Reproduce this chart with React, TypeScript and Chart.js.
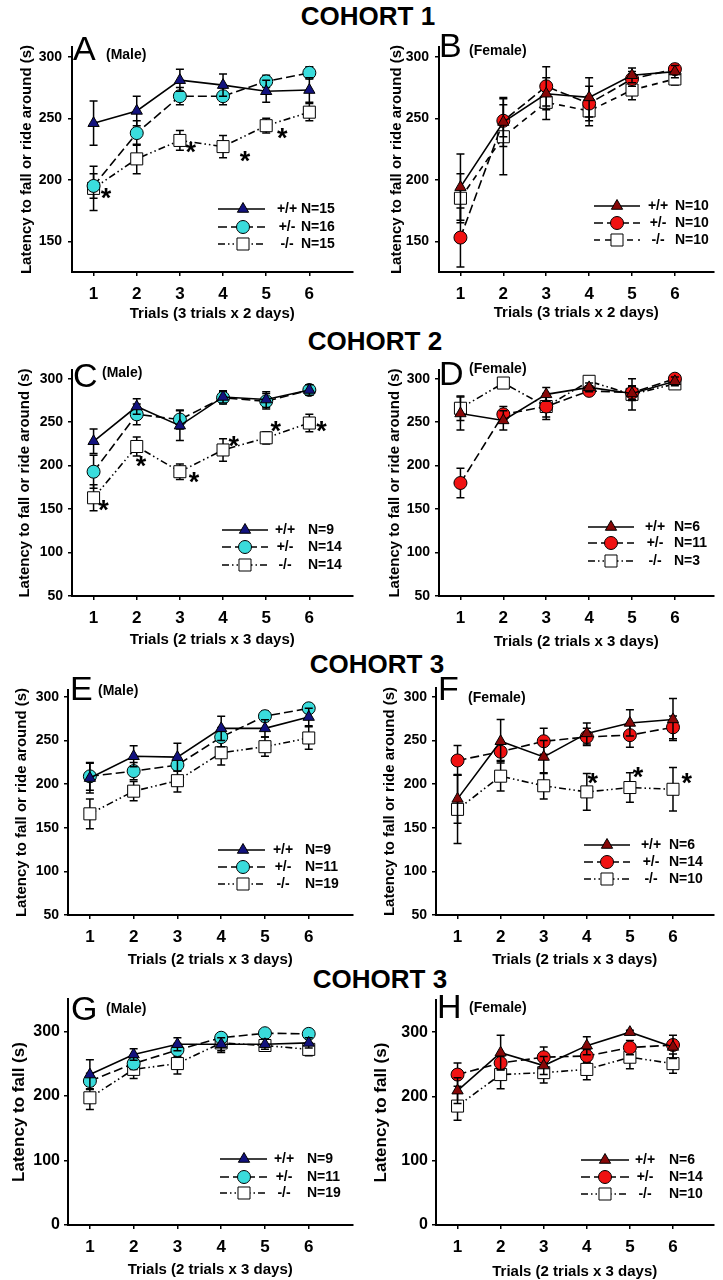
import React, { useEffect, useRef } from 'react';
import { Chart, registerables } from 'chart.js';

Chart.register(...registerables);

const FONT = "'Liberation Sans', Arial, Helvetica, sans-serif";

// ---------- shared categories ----------
const trials = [1, 2, 3, 4, 5, 6];
const genotypes = ['+/+', '+/-', '-/-'];
const yTicksCohort1 = [150, 200, 250, 300];
const yTicks50 = [50, 100, 150, 200, 250, 300];
const yTicks0 = [0, 100, 200, 300];

// ---------- Panel A : Cohort 1, male ----------
const aWT = [246, 256, 281, 277, 272, 273];
const aWTErr = [18, 12, 9, 9, 9, 10];
const aHet = [195, 238, 268, 268, 280, 287];
const aHetErr = [10, 10, 7, 7, 5, 5];
const aKO = [193, 217, 232, 227, 244, 255];
const aKOErr = [18, 12, 8, 9, 6, 7];
const aN = ['N=15', 'N=16', 'N=15'];
const aStarX = [1.29, 3.25, 4.51, 5.37];
const aStarY = [190, 227, 220, 239];

// ---------- Panel B : Cohort 1, female ----------
const bWT = [194, 247, 270, 267, 285, 288];
const bWTErr = [27, 20, 13, 16, 6, 5];
const bHet = [153, 248, 276, 262, 282, 290];
const bHetErr = [24, 13, 16, 14, 6, 4];
const bKO = [185, 235, 263, 256, 273, 282];
const bKOErr = [20, 31, 14, 12, 8, 5];
const bN = ['N=10', 'N=10', 'N=10'];
const bStarX: number[] = [];
const bStarY: number[] = [];

// ---------- Panel C : Cohort 2, male ----------
const cWT = [228, 268, 246, 279, 276, 287];
const cWTErr = [14, 9, 17, 7, 9, 6];
const cHet = [193, 259, 253, 278, 274, 287];
const cHetErr = [19, 12, 11, 7, 9, 6];
const cKO = [163, 222, 193, 218, 232, 249];
const cKOErr = [15, 11, 9, 13, 7, 10];
const cN = ['N=9', 'N=14', 'N=14'];
const cStarX = [1.23, 2.1, 3.33, 4.25, 5.22, 6.28];
const cStarY = [156, 206, 188, 229, 246, 246];

// ---------- Panel D : Cohort 2, female ----------
const dWT = [260, 252, 282, 290, 283, 297];
const dWTErr = [19, 11, 8, 5, 8, 5];
const dHet = [180, 259, 268, 286, 284, 300];
const dHetErr = [17, 9, 15, 5, 8, 3];
const dKO = [266, 295, 268, 297, 282, 294];
const dKOErr = [14, 3, 12, 3, 18, 5];
const dN = ['N=6', 'N=11', 'N=3'];
const dStarX: number[] = [];
const dStarY: number[] = [];

// ---------- Panel E : Cohort 3, male ----------
const eWT = [207, 232, 231, 264, 264, 277];
const eWTErr = [17, 12, 16, 14, 10, 10];
const eHet = [209, 215, 222, 254, 278, 287];
const eHetErr = [16, 10, 7, 11, 6, 5];
const eKO = [166, 192, 204, 236, 243, 253];
const eKOErr = [17, 11, 13, 14, 11, 13];
const eN = ['N=9', 'N=11', 'N=19'];
const eStarX: number[] = [];
const eStarY: number[] = [];

// ---------- Panel F : Cohort 3, female ----------
const fWT = [183, 249, 231, 258, 270, 274];
const fWTErr = [28, 25, 19, 12, 15, 24];
const fHet = [227, 237, 249, 254, 256, 265];
const fHetErr = [17, 10, 15, 10, 14, 13];
const fKO = [171, 209, 198, 191, 196, 194];
const fKOErr = [39, 17, 15, 21, 17, 25];
const fN = ['N=6', 'N=14', 'N=10'];
const fStarX = [4.14, 5.19, 6.32];
const fStarY = [208, 215, 208];

// ---------- Panel G : Cohort 3, male (latency to fall) ----------
const gWT = [233, 264, 280, 280, 280, 282];
const gWTErr = [23, 9, 10, 10, 8, 8];
const gHet = [223, 250, 271, 290, 297, 296];
const gHetErr = [12, 9, 10, 5, 3, 3];
const gKO = [197, 241, 250, 282, 278, 272];
const gKOErr = [18, 14, 16, 15, 7, 10];
const gN = ['N=9', 'N=11', 'N=19'];
const gStarX: number[] = [];
const gStarY: number[] = [];

// ---------- Panel H : Cohort 3, female (latency to fall) ----------
const hWT = [209, 268, 248, 279, 300, 277];
const hWTErr = [20, 27, 14, 14, 3, 18];
const hHet = [234, 252, 261, 263, 276, 280];
const hHetErr = [18, 10, 16, 10, 11, 8];
const hKO = [185, 234, 237, 242, 261, 251];
const hKOErr = [22, 22, 16, 16, 18, 15];
const hN = ['N=6', 'N=14', 'N=10'];
const hStarX: number[] = [];
const hStarY: number[] = [];

// ---------- texts ----------
const yTitleLong = 'Latency to fall or ride around (s)';
const yTitleShort = 'Latency to fall (s)';
const xTitle32 = 'Trials (3 trials x 2 days)';
const xTitle23 = 'Trials (2 trials x 3 days)';

const headings = [
  { text: 'COHORT 1', cx: 368, base: 25 },
  { text: 'COHORT 2', cx: 375, base: 350 },
  { text: 'COHORT 3', cx: 377, base: 673 },
  { text: 'COHORT 3', cx: 380, base: 988 },
];

type Rect = { x: number; y: number; w: number; h: number };
type Area = { l: number; t: number; r: number; b: number };
type LegendPos = { rows: number[]; line: [number, number]; marker: number; geno: number; n: number };
type PanelSpec = {
  letter: string;
  sex: string;
  female: boolean;
  canvas: Rect;
  area: Area;
  xMax: number;
  yMin: number;
  yMax: number;
  yTicks: number[];
  yTitle: string;
  xTitle: string;
  yTitleX: number;
  xTitleY: number;
  yTitleSize: number;
  yTickSize: number;
  yTickPad: number;
  values: number[][];
  errors: number[][];
  ns: string[];
  starX: number[];
  starY: number[];
  legend: LegendPos;
  koDash: number[];
  letterPos: { x: number; base: number };
  sexPos: { x: number; base: number };
};

const DASH_HET = [9, 4];
const DASH_KO = [7, 3, 1.5, 3, 1.5, 3];
const DASH_KO_B = [6, 5];

const panels: PanelSpec[] = [
  {
    letter: 'A', sex: '(Male)', female: false,
    canvas: { x: 0, y: 20, w: 362, h: 310 }, area: { l: 72, t: 47, r: 358, b: 272 },
    xMax: 7, yMin: 125, yMax: 308, yTicks: yTicksCohort1,
    yTitle: yTitleLong, xTitle: xTitle32, yTitleX: 27, xTitleY: 314, yTitleSize: 15, yTickSize: 14, yTickPad: 6,
    values: [aWT, aHet, aKO], errors: [aWTErr, aHetErr, aKOErr], ns: aN, starX: aStarX, starY: aStarY,
    legend: { rows: [209, 227, 244], line: [218, 265], marker: 243, geno: 287, n: 301 },
    koDash: DASH_KO, letterPos: { x: 73, base: 60 }, sexPos: { x: 106, base: 59 },
  },
  {
    letter: 'B', sex: '(Female)', female: true,
    canvas: { x: 362, y: 20, w: 361, h: 310 }, area: { l: 439, t: 47, r: 721, b: 272 },
    xMax: 6.9, yMin: 125, yMax: 308, yTicks: yTicksCohort1,
    yTitle: yTitleLong, xTitle: xTitle32, yTitleX: 397, xTitleY: 313, yTitleSize: 15, yTickSize: 14, yTickPad: 6,
    values: [bWT, bHet, bKO], errors: [bWTErr, bHetErr, bKOErr], ns: bN, starX: bStarX, starY: bStarY,
    legend: { rows: [206, 223, 240], line: [594, 640], marker: 617, geno: 658, n: 675 },
    koDash: DASH_KO_B, letterPos: { x: 439, base: 57 }, sexPos: { x: 469, base: 55 },
  },
  {
    letter: 'C', sex: '(Male)', female: false,
    canvas: { x: 0, y: 345, w: 362, h: 305 }, area: { l: 72, t: 370, r: 358, b: 596 },
    xMax: 7, yMin: 50, yMax: 310, yTicks: yTicks50,
    yTitle: yTitleLong, xTitle: xTitle23, yTitleX: 25, xTitleY: 640, yTitleSize: 15, yTickSize: 14, yTickPad: 5,
    values: [cWT, cHet, cKO], errors: [cWTErr, cHetErr, cKOErr], ns: cN, starX: cStarX, starY: cStarY,
    legend: { rows: [530, 547, 565], line: [222, 268], marker: 245, geno: 285, n: 308 },
    koDash: DASH_KO, letterPos: { x: 73, base: 387 }, sexPos: { x: 102, base: 377 },
  },
  {
    letter: 'D', sex: '(Female)', female: true,
    canvas: { x: 362, y: 345, w: 361, h: 305 }, area: { l: 439, t: 370, r: 721, b: 596 },
    xMax: 6.9, yMin: 50, yMax: 310, yTicks: yTicks50,
    yTitle: yTitleLong, xTitle: xTitle23, yTitleX: 395, xTitleY: 642, yTitleSize: 15, yTickSize: 14, yTickPad: 5,
    values: [dWT, dHet, dKO], errors: [dWTErr, dHetErr, dKOErr], ns: dN, starX: dStarX, starY: dStarY,
    legend: { rows: [527, 543, 561], line: [588, 634], marker: 611, geno: 655, n: 674 },
    koDash: DASH_KO, letterPos: { x: 439, base: 385 }, sexPos: { x: 469, base: 373 },
  },
  {
    letter: 'E', sex: '(Male)', female: false,
    canvas: { x: 0, y: 665, w: 362, h: 305 }, area: { l: 68, t: 690, r: 355, b: 915 },
    xMax: 7, yMin: 50, yMax: 308, yTicks: yTicks50,
    yTitle: yTitleLong, xTitle: xTitle23, yTitleX: 22, xTitleY: 960, yTitleSize: 15, yTickSize: 14, yTickPad: 5,
    values: [eWT, eHet, eKO], errors: [eWTErr, eHetErr, eKOErr], ns: eN, starX: eStarX, starY: eStarY,
    legend: { rows: [850, 867, 884], line: [218, 265], marker: 243, geno: 283, n: 305 },
    koDash: DASH_KO, letterPos: { x: 70, base: 700 }, sexPos: { x: 98, base: 695 },
  },
  {
    letter: 'F', sex: '(Female)', female: true,
    canvas: { x: 362, y: 665, w: 361, h: 305 }, area: { l: 436, t: 688, r: 721, b: 915 },
    xMax: 6.94, yMin: 50, yMax: 310, yTicks: yTicks50,
    yTitle: yTitleLong, xTitle: xTitle23, yTitleX: 390, xTitleY: 960, yTitleSize: 15, yTickSize: 14, yTickPad: 5,
    values: [fWT, fHet, fKO], errors: [fWTErr, fHetErr, fKOErr], ns: fN, starX: fStarX, starY: fStarY,
    legend: { rows: [845, 862, 879], line: [584, 630], marker: 607, geno: 651, n: 669 },
    koDash: DASH_KO, letterPos: { x: 438, base: 700 }, sexPos: { x: 468, base: 702 },
  },
  {
    letter: 'G', sex: '(Male)', female: false,
    canvas: { x: 0, y: 975, w: 362, h: 305 }, area: { l: 68, t: 999, r: 355, b: 1225 },
    xMax: 7, yMin: 0, yMax: 350, yTicks: yTicks0,
    yTitle: yTitleShort, xTitle: xTitle23, yTitleX: 19, xTitleY: 1270, yTitleSize: 17, yTickSize: 16, yTickPad: 4,
    values: [gWT, gHet, gKO], errors: [gWTErr, gHetErr, gKOErr], ns: gN, starX: gStarX, starY: gStarY,
    legend: { rows: [1159, 1177, 1193], line: [220, 267], marker: 244, geno: 284, n: 307 },
    koDash: DASH_KO, letterPos: { x: 71, base: 1020 }, sexPos: { x: 106, base: 1013 },
  },
  {
    letter: 'H', sex: '(Female)', female: true,
    canvas: { x: 362, y: 975, w: 361, h: 305 }, area: { l: 436, t: 1000, r: 721, b: 1225 },
    xMax: 6.94, yMin: 0, yMax: 350, yTicks: yTicks0,
    yTitle: yTitleShort, xTitle: xTitle23, yTitleX: 381, xTitleY: 1272, yTitleSize: 17, yTickSize: 16, yTickPad: 4,
    values: [hWT, hHet, hKO], errors: [hWTErr, hHetErr, hKOErr], ns: hN, starX: hStarX, starY: hStarY,
    legend: { rows: [1160, 1177, 1194], line: [581, 629], marker: 605, geno: 645, n: 669 },
    koDash: DASH_KO, letterPos: { x: 437, base: 1018 }, sexPos: { x: 469, base: 1012 },
  },
];

const MARKERS = ['triangle', 'circle', 'rect'];
const RADII = [6.5, 6.5, 8.5];

function seriesColors(female: boolean) {
  return female ? ['#880808', '#f01212', '#ffffff'] : ['#12127e', '#3adcdc', '#ffffff'];
}

function drawMarker(ctx: CanvasRenderingContext2D, style: string, x: number, y: number, fill: string) {
  ctx.save();
  ctx.setLineDash([]);
  ctx.fillStyle = fill;
  ctx.strokeStyle = '#000';
  ctx.lineWidth = 1;
  ctx.beginPath();
  if (style === 'triangle') {
    const r = RADII[0];
    ctx.moveTo(x, y - r);
    ctx.lineTo(x + r * Math.sin((2 * Math.PI) / 3), y - r * Math.cos((2 * Math.PI) / 3));
    ctx.lineTo(x + r * Math.sin((4 * Math.PI) / 3), y - r * Math.cos((4 * Math.PI) / 3));
    ctx.closePath();
  } else if (style === 'circle') {
    ctx.arc(x, y, RADII[1], 0, Math.PI * 2);
  } else {
    const h = RADII[2] * Math.SQRT1_2;
    ctx.rect(x - h, y - h, 2 * h, 2 * h);
  }
  ctx.fill();
  ctx.stroke();
  ctx.restore();
}

const errorBarPlugin = {
  id: 'errorBars',
  beforeDatasetDraw(chart: any, args: any) {
    const ds = chart.data.datasets[args.index];
    const errs: number[] | undefined = ds.errorBars;
    if (!errs) return;
    const meta = chart.getDatasetMeta(args.index);
    const yScale = chart.scales.y;
    const ctx = chart.ctx as CanvasRenderingContext2D;
    ctx.save();
    ctx.setLineDash([]);
    ctx.strokeStyle = '#000';
    ctx.lineWidth = 1.5;
    meta.data.forEach((pt: any, i: number) => {
      const v = ds.data[i].y;
      const e = errs[i];
      const top = yScale.getPixelForValue(v + e);
      const bot = yScale.getPixelForValue(v - e);
      const x = pt.x;
      ctx.beginPath();
      ctx.moveTo(x, top);
      ctx.lineTo(x, bot);
      ctx.moveTo(x - 4, top);
      ctx.lineTo(x + 4, top);
      ctx.moveTo(x - 4, bot);
      ctx.lineTo(x + 4, bot);
      ctx.stroke();
    });
    ctx.restore();
  },
};

function makeExtrasPlugin(s: PanelSpec) {
  return {
    id: 'extras',
    afterDraw(chart: any) {
      const ctx = chart.ctx as CanvasRenderingContext2D;
      const xs = chart.scales.x;
      const ys = chart.scales.y;
      // asterisks
      const sfs = 27;
      ctx.save();
      ctx.fillStyle = '#000';
      ctx.font = `bold ${sfs}px ${FONT}`;
      ctx.textAlign = 'center';
      ctx.textBaseline = 'alphabetic';
      s.starX.forEach((sx, i) => {
        const px = xs.getPixelForValue(sx);
        const py = ys.getPixelForValue(s.starY[i]);
        ctx.fillText('*', px, py + 0.55 * sfs);
      });
      ctx.restore();

      // legend
      const ox = s.canvas.x;
      const oy = s.canvas.y;
      const colors = seriesColors(s.female);
      const dashes = [[], DASH_HET, s.koDash];
      s.legend.rows.forEach((ry, k) => {
        const y = ry - oy;
        ctx.save();
        ctx.strokeStyle = '#000';
        ctx.lineWidth = 1.6;
        ctx.setLineDash(dashes[k]);
        ctx.beginPath();
        ctx.moveTo(s.legend.line[0] - ox, y);
        ctx.lineTo(s.legend.line[1] - ox, y);
        ctx.stroke();
        ctx.restore();
        drawMarker(ctx, MARKERS[k], s.legend.marker - ox, y, colors[k]);
        ctx.save();
        ctx.fillStyle = '#000';
        ctx.font = `bold 14px ${FONT}`;
        ctx.textBaseline = 'middle';
        ctx.textAlign = 'center';
        ctx.fillText(genotypes[k], s.legend.geno - ox, y);
        ctx.textAlign = 'left';
        ctx.fillText(s.ns[k], s.legend.n - ox, y);
        ctx.restore();
      });
    },
  };
}

function buildConfig(s: PanelSpec): any {
  const colors = seriesColors(s.female);
  const dashes = [[], DASH_HET, s.koDash];
  const datasets = s.values.map((vals, k) => ({
    label: genotypes[k],
    data: trials.map((t, i) => ({ x: t, y: vals[i] })),
    errorBars: s.errors[k],
    borderColor: '#000',
    borderWidth: 1.6,
    borderDash: dashes[k],
    pointStyle: MARKERS[k],
    pointRadius: RADII[k],
    pointHoverRadius: RADII[k],
    pointBackgroundColor: colors[k],
    pointBorderColor: '#000',
    pointBorderWidth: 1,
    tension: 0,
    fill: false,
    clip: false,
  }));
  const c = s.canvas;
  const a = s.area;
  const xAxisH = c.y + c.h - a.b;
  const yAxisW = a.l - c.x;
  const xTitlePad = Math.max(0, c.y + c.h - s.xTitleY - 7.5);
  const yTitlePad = Math.max(0, s.yTitleX - c.x - s.yTitleSize / 2);
  return {
    type: 'line',
    data: { datasets },
    options: {
      responsive: false,
      maintainAspectRatio: false,
      animation: false,
      devicePixelRatio: 1,
      events: [],
      layout: { padding: { left: 0, bottom: 0, top: a.t - c.y, right: c.x + c.w - a.r } },
      plugins: { legend: { display: false }, tooltip: { enabled: false }, title: { display: false } },
      scales: {
        x: {
          type: 'linear',
          min: 0.5,
          max: s.xMax,
          afterBuildTicks: (sc: any) => {
            sc.ticks = trials.map((v) => ({ value: v }));
          },
          afterFit: (sc: any) => {
            sc.height = xAxisH;
          },
          grid: { drawOnChartArea: false, drawTicks: true, tickLength: 4, color: '#000', lineWidth: 1.5 },
          border: { display: true, color: '#000', width: 2 },
          ticks: {
            color: '#000',
            font: { family: FONT, size: 17, weight: 'bold' },
            padding: 8,
            maxRotation: 0,
            autoSkip: false,
            callback: (v: any) => String(v),
          },
          title: {
            display: true,
            text: s.xTitle,
            color: '#000',
            font: { family: FONT, size: 15, weight: 'bold', lineHeight: 1 },
            padding: { top: 0, bottom: xTitlePad },
          },
        },
        y: {
          type: 'linear',
          min: s.yMin,
          max: s.yMax,
          afterBuildTicks: (sc: any) => {
            sc.ticks = s.yTicks.map((v) => ({ value: v }));
          },
          afterFit: (sc: any) => {
            sc.width = yAxisW;
          },
          grid: { drawOnChartArea: false, drawTicks: true, tickLength: 4, color: '#000', lineWidth: 1.5 },
          border: { display: true, color: '#000', width: 2 },
          ticks: {
            color: '#000',
            font: { family: FONT, size: s.yTickSize, weight: 'bold' },
            padding: s.yTickPad,
            callback: (v: any) => String(v),
          },
          title: {
            display: true,
            text: s.yTitle,
            color: '#000',
            font: { family: FONT, size: s.yTitleSize, weight: 'bold', lineHeight: 1 },
            padding: { top: yTitlePad, bottom: 0 },
          },
        },
      },
    },
    plugins: [errorBarPlugin, makeExtrasPlugin(s)],
  };
}

function Panel({ spec }: { spec: PanelSpec }) {
  const ref = useRef<HTMLCanvasElement>(null);
  useEffect(() => {
    if (!ref.current) return;
    const chart = new Chart(ref.current, buildConfig(spec));
    return () => chart.destroy();
  }, [spec]);
  const c = spec.canvas;
  return (
    <canvas
      ref={ref}
      width={c.w}
      height={c.h}
      style={{ position: 'absolute', left: c.x, top: c.y, width: c.w, height: c.h }}
    />
  );
}

function TextAt({ x, base, size, weight, children, center }: any) {
  const top = base - 0.8465 * size;
  const style: React.CSSProperties = {
    position: 'absolute',
    top,
    left: center ? x - 200 : x,
    width: center ? 400 : undefined,
    textAlign: center ? 'center' : 'left',
    fontFamily: FONT,
    fontSize: size,
    fontWeight: weight,
    lineHeight: `${size}px`,
    whiteSpace: 'nowrap',
    color: '#000',
    margin: 0,
    padding: 0,
  };
  return <div style={style}>{children}</div>;
}

export default function App() {
  return (
    <div
      style={{
        position: 'absolute',
        left: 0,
        top: 0,
        width: 723,
        height: 1280,
        background: '#fff',
        overflow: 'hidden',
      }}
    >
      {headings.map((h, i) => (
        <TextAt key={'h' + i} x={h.cx} base={h.base} size={26} weight="bold" center>
          {h.text}
        </TextAt>
      ))}
      {panels.map((p) => (
        <Panel key={p.letter} spec={p} />
      ))}
      {panels.map((p) => (
        <React.Fragment key={'t' + p.letter}>
          <TextAt x={p.letterPos.x} base={p.letterPos.base} size={34} weight="normal">
            {p.letter}
          </TextAt>
          <TextAt x={p.sexPos.x} base={p.sexPos.base} size={14} weight="bold">
            {p.sex}
          </TextAt>
        </React.Fragment>
      ))}
    </div>
  );
}
